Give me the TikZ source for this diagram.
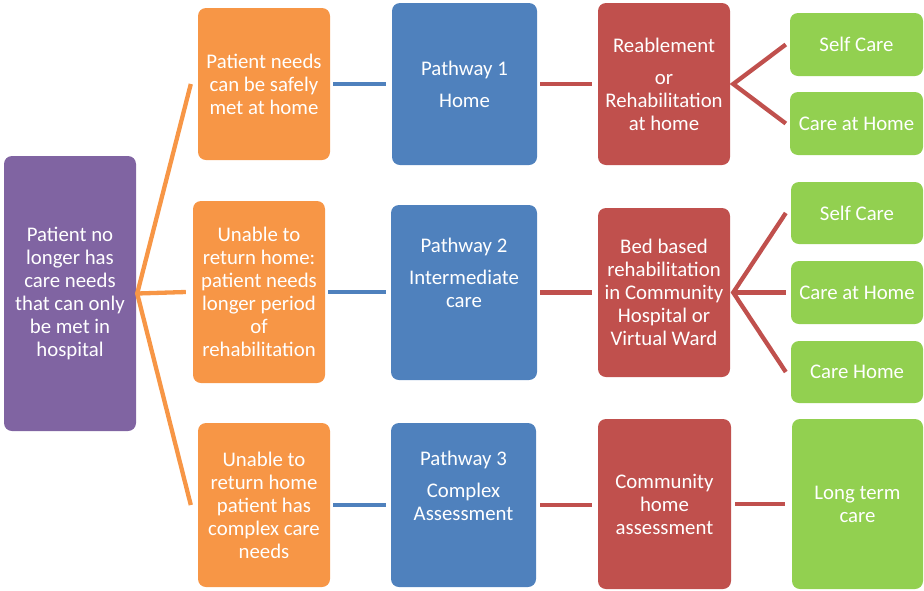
\documentclass[tikz,border=0pt]{standalone}
\usepackage{fontspec}
\setmainfont{Carlito}
\definecolor{cpurple}{HTML}{8064A2}
\definecolor{corange}{HTML}{F79646}
\definecolor{cblue}{HTML}{4F81BD}
\definecolor{cred}{HTML}{C0504D}
\definecolor{cgreen}{HTML}{92D050}
\begin{document}
\begin{tikzpicture}[x=1pt,y=-1pt,
  box/.style={rectangle, rounded corners=8pt, draw=none, text=white, align=center,
    inner sep=0pt, font={\fontsize{20.8}{23}\selectfont}},
  wl/.style={line width=4.3pt},
]
\useasboundingbox (0,0) rectangle (924,590);
% column 0
\node[box, fill=cpurple, minimum width=132pt, minimum height=275pt] (P) at (70,293.5)
  {Patient no\\longer has\\care needs\\that can only\\be met in\\hospital};
% column 1
\node[box, fill=corange, minimum width=132pt, minimum height=152pt] (O1) at (264,84)
  {Patient needs\\can be safely\\met at home};
\node[box, fill=corange, minimum width=132pt, minimum height=182pt] (O2) at (259,292)
  {Unable to\\return home:\\patient needs\\longer period\\of\\rehabilitation};
\node[box, fill=corange, minimum width=132pt, minimum height=164pt] (O3) at (264,505)
  {Unable to\\return home\\patient has\\complex care\\needs};
% column 2
\node[box, fill=cblue, minimum width=145pt, minimum height=162pt] (B1) at (464.5,84)
  {Pathway 1\\[9pt]Home};
\node[box, fill=cblue, minimum width=146pt, minimum height=175pt] (B2) at (464,292.5)
  {Pathway 2\\[9pt]Intermediate\\care\\[9pt]\strut};
\node[box, fill=cblue, minimum width=145pt, minimum height=164pt] (B3) at (463.5,505)
  {Pathway 3\\[9pt]Complex\\Assessment\\[9pt]\strut};
% column 3
\node[box, fill=cred, minimum width=132pt, minimum height=162pt] (R1) at (664,84)
  {Reablement\\[9pt]or\\Rehabilitation\\at home};
\node[box, fill=cred, minimum width=132pt, minimum height=169pt] (R2) at (664,292.5)
  {Bed based\\rehabilitation\\in Community\\Hospital or\\Virtual Ward};
\node[box, fill=cred, minimum width=133pt, minimum height=170pt] (R3) at (664.5,504)
  {Community\\home\\assessment};
% column 4
\node[box, fill=cgreen, minimum width=133pt, minimum height=63pt] (G1a) at (856.5,44.5) {Self Care};
\node[box, fill=cgreen, minimum width=133pt, minimum height=63pt] (G1b) at (856.5,123.5) {Care at Home};
\node[box, fill=cgreen, minimum width=132pt, minimum height=62pt] (G2a) at (857,213) {Self Care};
\node[box, fill=cgreen, minimum width=132pt, minimum height=63pt] (G2b) at (857,292.5) {Care at Home};
\node[box, fill=cgreen, minimum width=132pt, minimum height=62pt] (G2c) at (857,372) {Care Home};
\node[box, fill=cgreen, minimum width=131pt, minimum height=170pt] (G3) at (857.5,504) {Long term\\care};
% fork points
\coordinate (pf) at ([xshift=1pt]P.east);
\coordinate (o1f) at ([xshift=-7pt]O1.west);
\coordinate (o2f) at ([xshift=-7pt]O2.west);
\coordinate (o3f) at ([xshift=-7pt]O3.west);
\coordinate (r1f) at ([xshift=3pt]R1.east);
\coordinate (r2f) at ([xshift=3pt]R2.east);
% orange fork
\draw[wl, corange, line join=miter] (o1f) -- (pf) -- (o3f);
\draw[wl, corange] (pf) -- (o2f);
% blue links
\draw[wl, cblue, shorten <=3pt, shorten >=6pt] (O1.east) -- (B1.west |- O1.east);
\draw[wl, cblue, shorten <=3pt, shorten >=5pt] (O2.east) -- (B2.west |- O2.east);
\draw[wl, cblue, shorten <=3pt, shorten >=5pt] (O3.east) -- (B3.west |- O3.east);
% red links
\draw[wl, cred, shorten <=3pt, shorten >=6pt] (B1.east) -- (R1.west |- B1.east);
\draw[wl, cred, shorten <=3pt, shorten >=6pt] (B2.east) -- (R2.west |- B2.east);
\draw[wl, cred, shorten <=4pt, shorten >=6pt] (B3.east) -- (R3.west |- B3.east);
\draw[wl, cred, shorten <=4pt, shorten >=7pt] (R3.east) -- (G3.west |- R3.east);
% red forks
\draw[wl, cred, line join=miter] ([xshift=-4pt]G1a.west) -- (r1f) -- ([xshift=-4pt]G1b.west);
\draw[wl, cred, line join=miter] ([xshift=-5pt]G2a.west) -- (r2f) -- ([xshift=-5pt]G2c.west);
\draw[wl, cred] (r2f) -- ([xshift=-5pt]G2b.west);
\end{tikzpicture}
\end{document}
